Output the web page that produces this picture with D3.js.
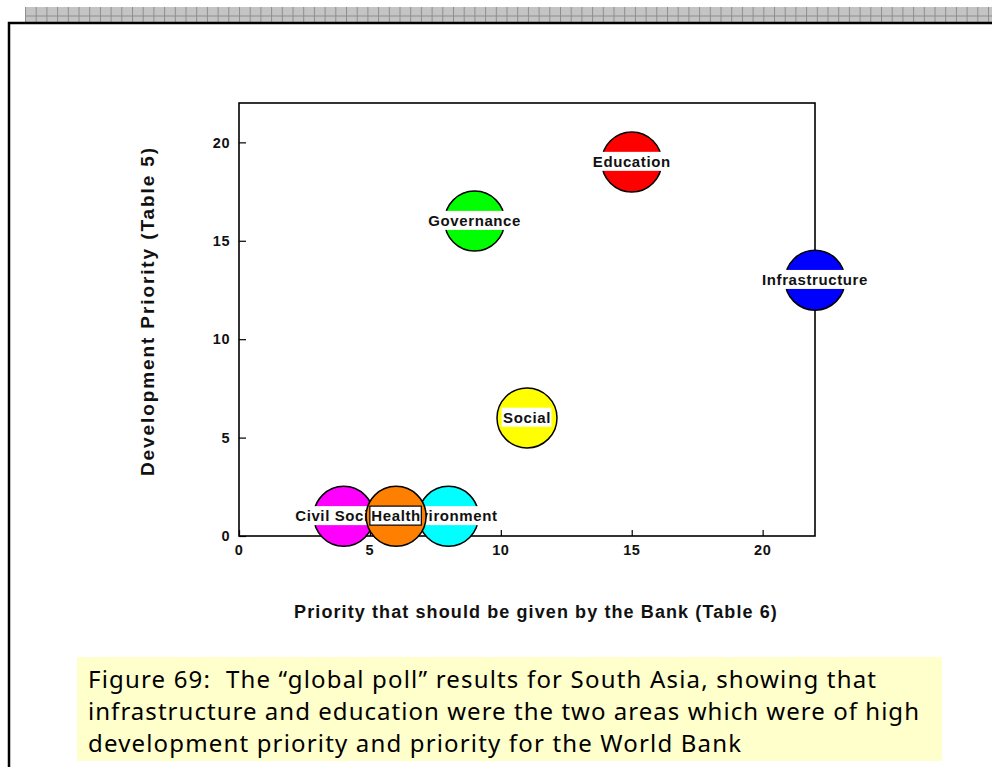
<!DOCTYPE html>
<html>
<head>
<meta charset="utf-8">
<script src="https://cdn.jsdelivr.net/npm/d3@7/dist/d3.min.js"></script>
<style>
  html, body { margin: 0; padding: 0; background: #ffffff; }
  svg { display: block; }
</style>
</head>
<body>
<script>
// ---- data ----
const categories   = ["Education", "Governance", "Infrastructure", "Social", "Civil Society", "Environment", "Health"];
const bankPriority = [15, 9, 22, 11, 4, 8, 6];      // x: Priority that should be given by the Bank (Table 6)
const devPriority  = [19, 16, 13, 6, 1, 1, 1];      // y: Development Priority (Table 5)
const bubbleColors = ["#ff0000", "#00ff00", "#0000ff", "#ffff00", "#ff00ff", "#00ffff", "#ff8000"];
const xTicks = [0, 5, 10, 15, 20];
const yTicks = [0, 5, 10, 15, 20];
const xTitle = "Priority that should be given by the Bank (Table 6)";
const yTitle = "Development Priority (Table 5)";
const captionLines = [
  "Figure 69:  The \u201Cglobal poll\u201D results for South Asia, showing that",
  "infrastructure and education were the two areas which were of high",
  "development priority and priority for the World Bank"
];
const captionWidths = [788, 831, 653];

const W = 992, H = 767;
const svg = d3.select("body").append("svg").attr("width", W).attr("height", H);

// ---- page decoration ----
const defs = svg.append("defs");
const pat = defs.append("pattern").attr("id", "hatch").attr("patternUnits", "userSpaceOnUse")
  .attr("x", 25).attr("y", 7).attr("width", 10.7).attr("height", 15);
pat.append("rect").attr("width", 10.7).attr("height", 15).attr("fill", "#c4c4c4");
pat.append("line").attr("x1", 0.5).attr("x2", 0.5).attr("y1", 0).attr("y2", 15).attr("stroke", "#8e8e8e").attr("stroke-width", 1);
pat.append("line").attr("x1", 0).attr("x2", 10.7).attr("y1", 9).attr("y2", 9).attr("stroke", "#8e8e8e").attr("stroke-width", 1);
svg.append("rect").attr("x", 25).attr("y", 7).attr("width", W - 25).attr("height", 15).attr("fill", "url(#hatch)");
svg.append("path").attr("d", `M9,${H} L9,23 L${W},23`).attr("fill", "none").attr("stroke", "#000").attr("stroke-width", 2.5);

// ---- chart ----
const plot = { left: 239, right: 815, top: 103, bottom: 536 };
const x = d3.scaleLinear().domain([0, 22]).range([plot.left, plot.right]);
const y = d3.scaleLinear().domain([0, 22]).range([plot.bottom, plot.top]);

const g = svg.append("g");
// frame
g.append("rect").attr("x", plot.left).attr("y", plot.top)
  .attr("width", plot.right - plot.left).attr("height", plot.bottom - plot.top)
  .attr("fill", "none").attr("stroke", "#000").attr("stroke-width", 1.6);

const tickFont = "'Liberation Sans', Arial, sans-serif";

// y axis (ticks inward)
const yAxis = d3.axisRight(y).tickValues(yTicks).tickSize(7).tickFormat("");
g.append("g").attr("transform", `translate(${plot.left},0)`).call(yAxis)
  .call(s => s.select(".domain").remove())
  .call(s => s.selectAll("line").attr("stroke", "#000").attr("stroke-width", 1.2));
g.append("g").selectAll("text").data(yTicks).join("text")
  .attr("x", plot.left - 9).attr("y", d => y(d)).attr("dy", "0.36em")
  .attr("text-anchor", "end").attr("font-family", tickFont).attr("font-weight", "bold")
  .attr("font-size", 14.5).attr("letter-spacing", 0.5).attr("fill", "#111").text(d => d);

// x axis (ticks inward)
const xAxis = d3.axisTop(x).tickValues(xTicks).tickSize(6).tickFormat("");
g.append("g").attr("transform", `translate(0,${plot.bottom})`).call(xAxis)
  .call(s => s.select(".domain").remove())
  .call(s => s.selectAll("line").attr("stroke", "#000").attr("stroke-width", 1.2));
g.append("g").selectAll("text").data(xTicks).join("text")
  .attr("x", d => x(d)).attr("y", plot.bottom + 14).attr("dy", "0.36em")
  .attr("text-anchor", "middle").attr("font-family", tickFont).attr("font-weight", "bold")
  .attr("font-size", 14.5).attr("letter-spacing", 0.5).attr("fill", "#111").text(d => d);

// axis titles
g.append("text").attr("x", 536).attr("y", 618).attr("text-anchor", "middle")
  .attr("font-family", tickFont).attr("font-weight", "bold").attr("font-size", 18)
  .attr("letter-spacing", 1.1).attr("fill", "#111").text(xTitle);
g.append("text").attr("transform", "translate(154,311) rotate(-90)").attr("text-anchor", "middle")
  .attr("font-family", tickFont).attr("font-weight", "bold").attr("font-size", 19)
  .attr("letter-spacing", 1.9).attr("fill", "#111").text(yTitle);

// bubbles
const data = categories.map((c, i) => ({ name: c, bx: bankPriority[i], dy: devPriority[i], color: bubbleColors[i], boxed: c === "Health" }));
const R = 30;
const bubbles = g.append("g").selectAll("g").data(data).join("g")
  .attr("transform", d => `translate(${x(d.bx)},${y(d.dy)})`);
bubbles.append("circle").attr("r", R).attr("fill", d => d.color).attr("stroke", "#000").attr("stroke-width", 1.5);
const lbl = bubbles.append("text").attr("text-anchor", "middle").attr("dy", "0.32em")
  .attr("font-family", tickFont).attr("font-weight", "bold").attr("font-size", 15)
  .attr("letter-spacing", 0.6).attr("fill", "#111").text(d => d.name);
lbl.each(function(d) {
  const bb = this.getBBox();
  d3.select(this.parentNode).insert("rect", "text")
    .attr("x", bb.x - 1.5).attr("y", bb.y - 1).attr("width", bb.width + 2).attr("height", bb.height + 2)
    .attr("fill", "#fff")
    .attr("stroke", d.boxed ? "#000" : "none").attr("stroke-width", 1.2);
});

// caption
svg.append("rect").attr("x", 77).attr("y", 657).attr("width", 865).attr("height", 104).attr("fill", "#ffffcc");
svg.append("g").selectAll("text").data(captionLines).join("text")
  .attr("x", 88).attr("y", (d, i) => 688 + i * 32)
  .attr("xml:space", "preserve").style("white-space", "pre")
  .attr("font-family", "'Comic Sans MS', 'Noto Sans', sans-serif").attr("font-size", 24)
  .attr("textLength", (d, i) => captionWidths[i]).attr("lengthAdjust", "spacing")
  .attr("fill", "#000").text(d => d);
</script>
</body>
</html>
